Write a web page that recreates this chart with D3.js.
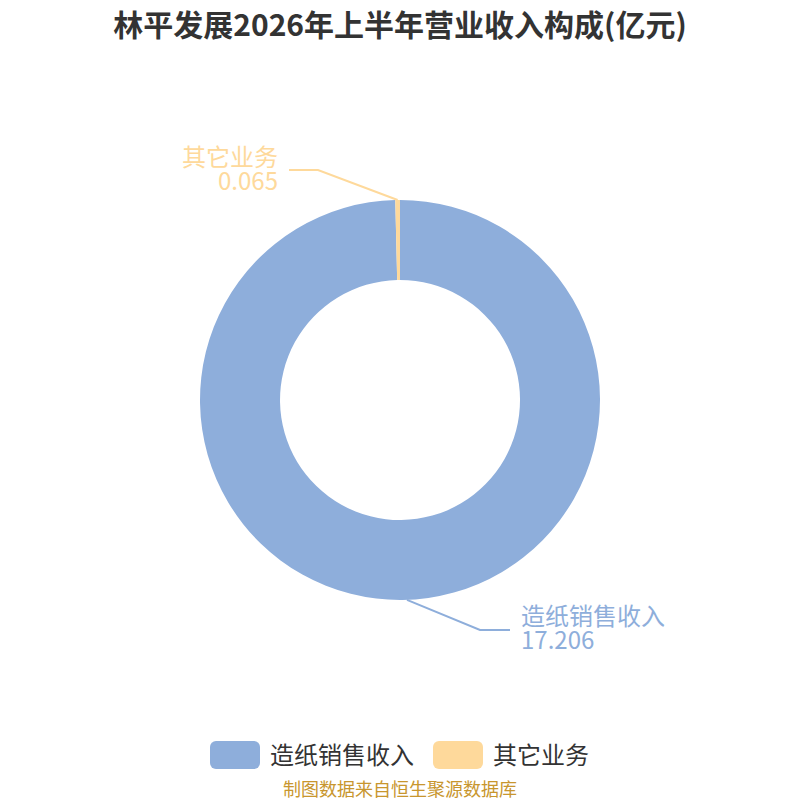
<!DOCTYPE html>
<html><head><meta charset="utf-8">
<script src="https://cdn.jsdelivr.net/npm/d3@7/dist/d3.min.js"></script>
<style>body{margin:0;background:#fff;}svg{display:block;font-family:"Noto Sans CJK SC","Noto Sans",sans-serif;}</style>
</head><body>
<svg id="c" width="800" height="800"></svg>
<script>
const title = "林平发展2026年上半年营业收入构成(亿元)";
const categories = ["造纸销售收入", "其它业务"];
const values = [17.206, 0.065];
const valueLabels = ["17.206", "0.065"];
const colors = ["#8eaedb", "#fed99b"];
const footer = "制图数据来自恒生聚源数据库";

const svg = d3.select("#c");
const cx = 400, cy = 400, rOut = 200, rIn = 120;

svg.append("text").attr("x", 400).attr("y", 36).attr("text-anchor", "middle")
  .attr("font-size", 30).attr("font-weight", "bold").attr("fill", "#333").text(title);

const data = categories.map((c, i) => ({name: c, value: values[i], label: valueLabels[i], color: colors[i]}));
const pie = d3.pie().value(d => d.value).sort(null);
const arcs = pie(data);
const arc = d3.arc().innerRadius(rIn).outerRadius(rOut);
const g = svg.append("g").attr("transform", `translate(${cx},${cy})`);
g.selectAll("path").data(arcs).join("path").attr("d", arc).attr("fill", d => d.data.color);

// leader lines and labels
arcs.forEach((a, i) => {
  const mid = (a.startAngle + a.endAngle) / 2;
  const p0 = [Math.sin(mid) * rOut, -Math.cos(mid) * rOut];
  let p1, p2, tx, anchor, ty;
  if (i === 0) {
    const ang = Math.PI - 0.035;
    const s = [Math.sin(ang) * rOut, -Math.cos(ang) * rOut];
    p1 = [80, 230]; p2 = [110, 230];
    g.append("polyline").attr("points", [s, p1, p2].map(p => p.join(",")).join(" "))
      .attr("fill", "none").attr("stroke", a.data.color).attr("stroke-width", 2);
    tx = 121; anchor = "start"; ty = 225;
  } else {
    p1 = [-82, -230]; p2 = [-111, -230];
    g.append("polyline").attr("points", [p0, p1, p2].map(p => p.join(",")).join(" "))
      .attr("fill", "none").attr("stroke", a.data.color).attr("stroke-width", 2);
    tx = -122; anchor = "end"; ty = -234;
  }
  const t = g.append("text").attr("text-anchor", anchor)
    .attr("font-size", 24).attr("fill", a.data.color);
  t.append("tspan").attr("x", tx).attr("y", ty).text(a.data.name);
  t.append("tspan").attr("x", tx).attr("y", ty + 24).text(a.data.label);
});

// legend
const legX = [210, 433];
const leg = svg.append("g");
data.forEach((d, i) => {
  leg.append("rect").attr("x", legX[i]).attr("y", 741).attr("width", 50).attr("height", 28)
    .attr("rx", 6).attr("fill", d.color);
  leg.append("text").attr("x", legX[i] + 60).attr("y", 764).attr("font-size", 24)
    .attr("fill", "#333").text(d.name);
});

svg.append("text").attr("x", 400).attr("y", 796).attr("text-anchor", "middle")
  .attr("font-size", 18).attr("fill", "#c8962e").text(footer);
</script>
</body></html>
